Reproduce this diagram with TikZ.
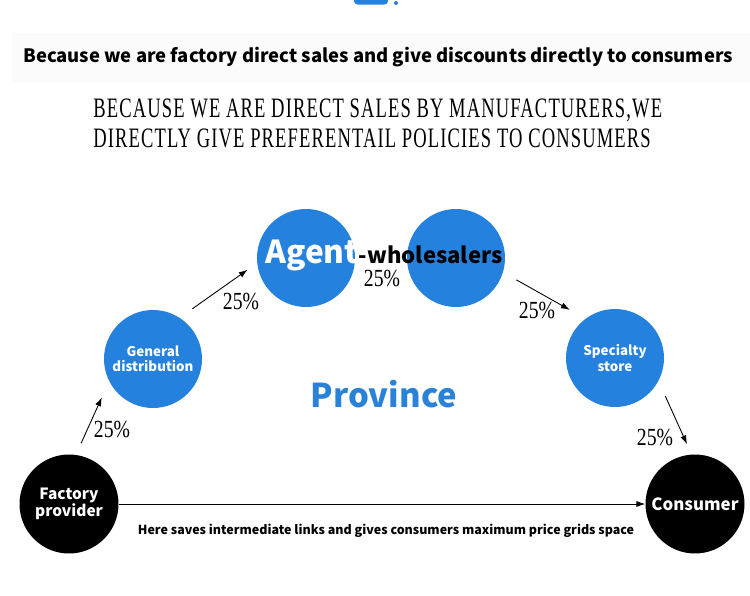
\documentclass[tikz,border=0pt]{standalone}
\usepackage{fontspec}
\setmainfont{Liberation Serif}
\setsansfont{Noto Sans CJK SC}
\newfontfamily\narrowserif[FakeStretch=0.8]{Liberation Serif}
\newfontfamily\capserif[FakeStretch=0.66, LetterSpace=4]{Liberation Serif}
\usetikzlibrary{positioning,arrows.meta}
\definecolor{circblue}{HTML}{2481DD}
\definecolor{provblue}{HTML}{2A82D8}
\definecolor{bandgray}{HTML}{FBFBFB}

\begin{document}
\begin{tikzpicture}[x=0.02cm, y=-0.02cm,
    every node/.style={font=\sffamily\bfseries},
    bluecirc/.style={circle, fill=circblue, text=white, minimum size=1.96cm,
                     inner sep=0pt, align=center,
                     font=\sffamily\bfseries\fontsize{7.6}{8.6}\selectfont},
    blackcirc/.style={circle, fill=black, text=white, minimum size=1.98cm,
                      inner sep=0pt, align=center},
    pct/.style={font=\narrowserif\fontsize{14}{14}\selectfont},
    capline/.style={anchor=base west, inner sep=0pt,
                    font=\capserif\fontsize{16}{16}\selectfont},
    flow/.style={-{Latex[length=5pt,width=3.5pt]}, line width=0.5pt}]
  \useasboundingbox (0,0) rectangle (750,595);

  % top strip
  \fill[circblue, rounded corners=2pt] (354,-4) rectangle (388,4.5);
  \fill[circblue] (396,3) circle (2);
  \fill[bandgray] (12,33) rectangle (750,82);
  \node (headline) at (378,57)
    {\fontsize{10.5}{11}\selectfont Because we are factory direct sales and give discounts directly to consumers};
  \node[capline] (subline1) at (93,117) {BECAUSE WE ARE DIRECT SALES BY MANUFACTURERS,WE};
  \node[capline] (subline2) at (93,147) {DIRECTLY GIVE PREFERENTAIL POLICIES TO CONSUMERS};

  % circles
  \node[blackcirc, font=\sffamily\bfseries\fontsize{8.8}{10}\selectfont]
    (factory) at (69,504) {Factory\\provider};
  \node[bluecirc] (general) at (153,359) {General\\distribution};
  \node[bluecirc] (agent) at (306,258) {};
  \node[bluecirc] (wholesale) at (456,258) {};
  \node[bluecirc] (specialty) at (615,358) {Specialty\\store};
  \node[blackcirc, font=\sffamily\bfseries\fontsize{9.6}{11}\selectfont]
    (consumer) at (695,504) {Consumer};

  % texts
  \node[anchor=base west, inner sep=0pt] (agenttext) at (265,263)
    {{\color{white}\fontsize{18}{18}\selectfont Agent}{\fontsize{12.6}{13}\selectfont -wholesalers}};
  \node[text=provblue, font=\sffamily\bfseries\fontsize{18.7}{20}\selectfont]
    (province) at (384,394) {Province};
  \node[font=\sffamily\bfseries\fontsize{7.1}{8}\selectfont]
    (saving) at (386,531) {Here saves intermediate links and gives consumers maximum price grids space};

  % arrows
  \draw[flow, shorten <=7.2pt, shorten >=10pt] (factory.82) -- (general.207);
  \draw[flow, shorten <=8.7pt, shorten >=6.5pt] (general.57) -- (agent.186);
  \draw[flow, shorten <=8.6pt, shorten >=10.2pt] (wholesale.343) -- (specialty.127);
  \draw[flow, shorten <=9.3pt, shorten >=6.3pt] (specialty.332) -- (consumer.94);
  \draw[flow] (factory.east) -- (consumer.west);

  % percentages
  \node[pct] (p1) at (112,429) {25\%};
  \node[pct] (p2) at (241,301) {25\%};
  \node[pct] (p3) at (382,278) {25\%};
  \node[pct] (p4) at (537,310) {25\%};
  \node[pct] (p5) at (655,437) {25\%};
\end{tikzpicture}
\end{document}
